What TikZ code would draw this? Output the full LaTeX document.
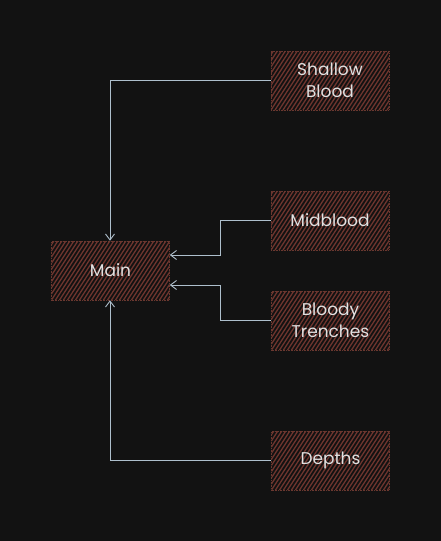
\documentclass[tikz,border=0pt]{standalone}
\usepackage{fontspec}
\setmainfont{Poppins}
\usetikzlibrary{arrows.meta}
\definecolor{bg}{HTML}{121212}
\definecolor{hatch}{HTML}{6E352E}
\definecolor{edge}{HTML}{6A3830}
\definecolor{txt}{HTML}{E2E2E2}
\definecolor{wire}{HTML}{AEBFCC}
\tikzset{
  box/.style={rectangle, minimum width=118pt, minimum height=59pt, inner sep=0pt,
    draw=edge, densely dotted, line width=0.6pt, text=txt, align=center,
    font=\fontsize{17pt}{22pt}\selectfont,
    path picture={
      \foreach \i in {-48,-44,...,125}
        \draw[hatch, solid, line width=1.3pt]
          ([xshift=\i pt]path picture bounding box.south west) -- ++(57:80pt);
    }},
  conn/.style={draw=wire, line width=0.9pt, -{Straight Barb[length=6pt,width=9pt]}}
}
\begin{document}
\begin{tikzpicture}[x=1pt,y=-1pt]
\fill[bg] (0,0) rectangle (441,541);
\useasboundingbox (0,0) rectangle (441,541);
\node[box] (main) at (110.5,270.5) {Main};
\node[box] (shallow) at (330,80.5) {Shallow\\Blood};
\node[box] (mid) at (330,220.5) {Midblood};
\node[box] (trench) at (330.5,320.5) {Bloody\\Trenches};
\node[box] (depths) at (330.5,460.5) {Depths};
\coordinate (c1) at (110,80.5);
\coordinate (c2a) at (220,220.5);
\coordinate (c2b) at (220,255);
\coordinate (c3a) at (220,320.5);
\coordinate (c3b) at (220,285);
\coordinate (c4) at (110,460.5);
\draw[conn] (shallow.west) -- (c1) -- (c1 |- main.north);
\draw[conn] (mid.west) -- (c2a) -- (c2b) -- (c2b -| main.east);
\draw[conn] (trench.west) -- (c3a) -- (c3b) -- (c3b -| main.east);
\draw[conn] (depths.west) -- (c4) -- (c4 |- main.south);
\end{tikzpicture}
\end{document}
